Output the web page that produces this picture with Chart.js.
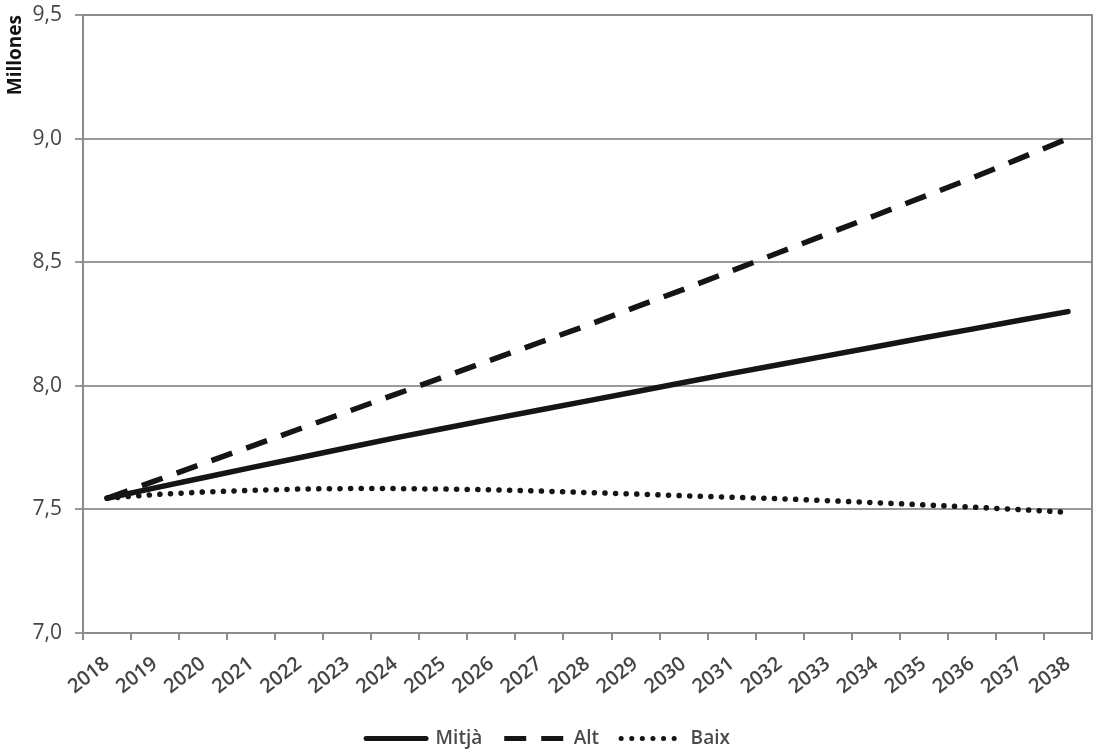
<!DOCTYPE html>
<html>
<head>
<meta charset="utf-8">
<script src="https://cdn.jsdelivr.net/npm/chart.js@4/dist/chart.umd.min.js"></script>
<style>
  html, body { margin: 0; padding: 0; background: #fff; }
  #wrap { width: 1107px; height: 753px; }
</style>
</head>
<body>
<div id="wrap"><canvas id="chart"></canvas></div>
<script>
// Years on the x axis
const years = ["2018", "2019", "2020", "2021", "2022", "2023", "2024", "2025", "2026", "2027",
    "2028", "2029", "2030", "2031", "2032", "2033", "2034", "2035", "2036", "2037", "2038"];

// Population projections (millions)
const mitja = [7.545, 7.587, 7.628, 7.669, 7.709, 7.749, 7.789, 7.827, 7.865, 7.902,
    7.939, 7.976, 8.013, 8.05, 8.086, 8.122, 8.158, 8.194, 8.229, 8.265, 8.30];
const alt = [7.545, 7.615, 7.685, 7.755, 7.825, 7.895, 7.965, 8.035, 8.105, 8.175,
    8.245, 8.318, 8.39, 8.465, 8.54, 8.615, 8.69, 8.765, 8.84, 8.92, 9.0];
const baix = [7.545, 7.56, 7.57, 7.577, 7.582, 7.584, 7.584, 7.582, 7.579, 7.574,
    7.568, 7.562, 7.555, 7.549, 7.543, 7.535, 7.527, 7.518, 7.509, 7.499, 7.488];

// Y axis ticks
const yTicks = [7.0, 7.5, 8.0, 8.5, 9.0, 9.5];

const font = "'Open Sans', 'DejaVu Sans', sans-serif";

// Box around the plot area
const frame = {
    id: "frame",
    afterDraw(chart) {
        const { ctx, chartArea: a } = chart;
        ctx.save();
        ctx.strokeStyle = "#8c8c8c";
        ctx.lineWidth = 2;
        ctx.beginPath();
        ctx.moveTo(a.left, a.top);
        ctx.lineTo(a.right, a.top);
        ctx.lineTo(a.right, a.bottom);
        ctx.stroke();
        ctx.restore();
    }
};

new Chart(document.getElementById("chart"), {
    type: "line",
    data: {
        labels: years,
        datasets: [
            { label: "Mitjà", data: mitja, borderColor: "#151515", borderWidth: 5.5,
              pointRadius: 0, pointStyle: "line", borderCapStyle: "round" },
            { label: "Alt", data: alt, borderColor: "#151515", borderWidth: 5.5,
              borderDash: [22, 15], pointRadius: 0, pointStyle: "line" },
            { label: "Baix", data: baix, borderColor: "#151515", borderWidth: 5.5,
              borderDash: [0.1, 10.5], borderCapStyle: "round", pointRadius: 0, pointStyle: "line" }
        ]
    },
    options: {
        responsive: true,
        maintainAspectRatio: false,
        animation: false,
        layout: { padding: { top: 0, right: 15, left: 4, bottom: -5 } },
        plugins: {
            tooltip: { enabled: false },
            legend: {
                position: "bottom",
                labels: {
                    usePointStyle: true,
                    pointStyleWidth: 60,
                    boxHeight: 5,
                    padding: 22,
                    color: "#4a4a4a",
                    font: { family: font, size: 19, weight: "600" },
                    generateLabels(chart) {
                        const items = Chart.defaults.plugins.legend.labels.generateLabels(chart);
                        items.forEach(it => {
                            const ds = chart.data.datasets[it.datasetIndex];
                            it.lineDash = ds.borderDash || [];
                            it.lineWidth = 5;
                            it.lineCap = ds.borderCapStyle || "butt";
                        });
                        return items;
                    }
                }
            }
        },
        scales: {
            x: {
                offset: true,
                afterFit(axis) { axis.height -= 4; },
                grid: { display: true, offset: true, drawOnChartArea: false,
                        color: "#8c8c8c", lineWidth: 2, tickLength: 7 },
                border: { color: "#8c8c8c", width: 2 },
                ticks: { color: "#444", maxRotation: 38, minRotation: 38, autoSkip: false, padding: 12,
                         font: { family: font, size: 20, weight: "600" } }
            },
            y: {
                min: 7.0,
                max: 9.5,
                afterBuildTicks(axis) { axis.ticks = yTicks.map(v => ({ value: v })); },
                afterFit(axis) {
                    axis.width = 79;
                    axis.paddingTop = 15;
                    axis.paddingBottom = 13;
                },
                title: { display: true, text: "Millones", align: "end", color: "#111",
                         font: { family: font, size: 19, weight: "bold" }, padding: { top: 0, bottom: 2 } },
                grid: { color: "#9a9a9a", lineWidth: 2, tickLength: 8 },
                border: { color: "#8c8c8c", width: 2 },
                ticks: { color: "#444", padding: 13,
                         font: { family: font, size: 21, weight: "500" },
                         callback: v => v.toFixed(1).replace(".", ",") }
            }
        }
    },
    plugins: [frame]
});
</script>
</body>
</html>
